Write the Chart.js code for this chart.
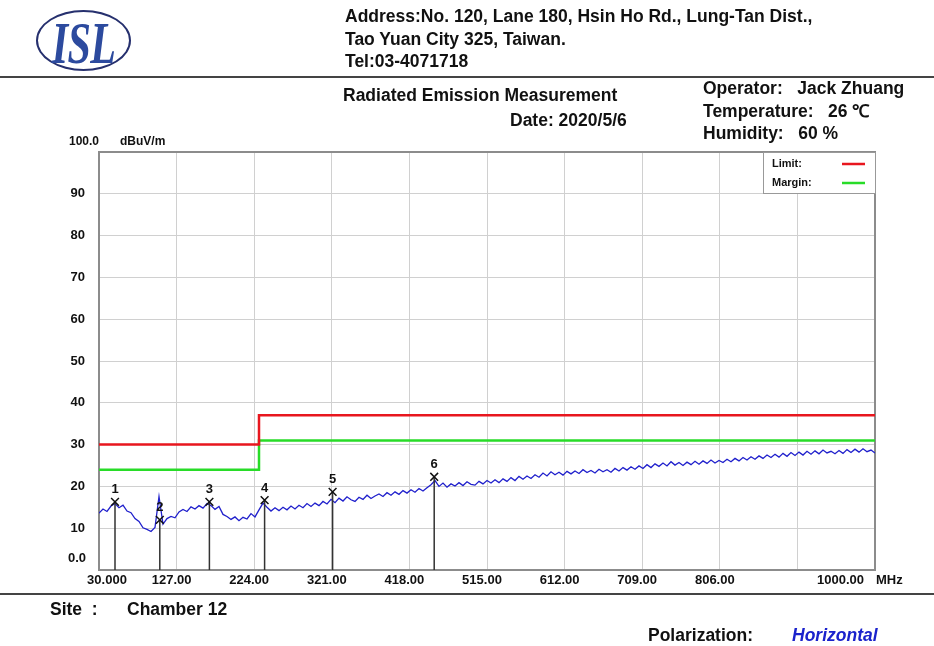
<!DOCTYPE html>
<html>
<head>
<meta charset="utf-8">
<script src="https://cdn.jsdelivr.net/npm/chart.js@4.4.1/dist/chart.umd.min.js"></script>
<style>
  body{margin:0;background:#fff;width:934px;height:646px;overflow:hidden;position:relative;
    font-family:"Liberation Sans",Arial,sans-serif;color:#111;}
  .t{position:absolute;font-weight:bold;white-space:pre;line-height:1;font-size:17.5px;}
  .logo{position:absolute;left:36px;top:10px;width:91px;height:57px;border:2.5px solid #26306e;border-radius:50%;}
  .logo span{position:absolute;left:0;right:0;top:1px;text-align:center;font-family:"Liberation Serif",serif;
    font-weight:bold;font-style:italic;font-size:60px;color:#2c4a9e;transform:scaleX(0.7);letter-spacing:-1px;line-height:1;}
  .rule{position:absolute;left:0;width:934px;background:#444;}
  #c{position:absolute;left:0;top:0;}
</style>
</head>
<body>
<canvas id="c" width="934" height="646"></canvas>

<div class="logo"><span>ISL</span></div>
<div class="t" style="left:345px;top:8px">Address:No. 120, Lane 180, Hsin Ho Rd., Lung-Tan Dist.,</div>
<div class="t" style="left:345px;top:31px">Tao Yuan City 325, Taiwan.</div>
<div class="t" style="left:345px;top:53px">Tel:03-4071718</div>
<div class="rule" style="top:76px;height:2px"></div>

<div class="t" style="left:343px;top:87px">Radiated Emission Measurement</div>
<div class="t" style="left:510px;top:112px">Date: 2020/5/6</div>
<div class="t" style="left:703px;top:80px">Operator:   Jack Zhuang</div>
<div class="t" style="left:703px;top:103px">Temperature:   26 ℃</div>
<div class="t" style="left:703px;top:125px">Humidity:   60 %</div>

<div class="rule" style="top:593px;height:2px"></div>
<div class="t" style="left:50px;top:601px">Site  :</div>
<div class="t" style="left:127px;top:601px">Chamber 12</div>
<div class="t" style="left:648px;top:627px">Polarization:</div>
<div class="t" style="left:792px;top:627px;font-style:italic;color:#1a22cc">Horizontal</div>

<script>
// frequency axis (MHz)
const xTicks = [30, 127, 224, 321, 418, 515, 612, 709, 806, 903, 1000];
const xTickLabels = ['30.000', '127.00', '224.00', '321.00', '418.00', '515.00', '612.00', '709.00', '806.00', '', '1000.00'];
const yTicks = [0, 10, 20, 30, 40, 50, 60, 70, 80, 90, 100];

// limit / margin lines (dBuV/m)
const limitFreq = [30, 230, 230, 1000];
const limitLevel = [30, 30, 37, 37];
const marginLevel = [24, 24, 31, 31];

// sweep: 30 MHz start, 5 MHz step
const sweepStart = 30, sweepStep = 5;
const traceLevel = [
  13.6,14.6,14.0,15.3,15.9,14.9,15.5,14.1,13.7,12.3,11.6,10.1,9.7,9.2,10.2,
  17.6,11.0,12.3,12.8,12.5,13.9,14.5,14.0,15.1,14.6,15.4,14.8,15.9,15.4,14.5,15.2,13.3,12.8,12.1,12.7,11.8,12.6,12.2,13.5,12.7,14.4,
  16.0,15.0,14.1,14.9,14.2,15.0,14.4,15.3,14.6,15.5,14.9,15.9,15.2,16.0,15.4,16.4,15.8,16.9,
  16.1,17.2,16.5,17.5,16.8,16.4,17.4,16.9,17.9,17.1,17.7,18.2,17.6,18.5,17.9,18.7,18.1,19.0,18.4,19.2,18.6,19.5,18.9,19.7,20.4,
  21.4,20.0,20.8,19.8,20.6,20.1,20.9,20.2,21.1,20.5,20.3,21.2,20.6,21.4,20.8,21.6,20.9,21.8,21.2,22.1,21.4,22.4,21.7,
  22.5,21.9,22.8,22.2,23.2,22.5,23.5,22.8,23.4,22.7,23.6,23.0,23.7,23.1,24.0,23.3,23.8,23.2,24.1,23.5,24.0,23.4,24.3,23.7,24.5,23.9,24.7,24.1,
  24.9,24.3,25.2,24.5,25.4,24.8,25.6,24.9,25.9,25.1,25.7,25.0,25.8,25.2,26.0,25.3,26.1,25.5,26.3,25.6,26.2,25.7,26.5,25.9,26.7,26.1,26.9,26.3,27.1,26.5,
  27.3,26.7,27.5,26.9,27.7,27.0,27.9,27.2,28.1,27.4,28.2,27.5,28.4,27.7,28.5,27.8,28.7,28.0,28.4,27.8,28.6,27.9,28.8,28.1,28.9,28.2,29.0,28.3,28.7,28.0
];

// peak markers
const markerNo = [1, 2, 3, 4, 5, 6];
const markerFreq = [50, 106, 168, 237, 322, 449];
const markerLevel = [16.3, 12.0, 16.3, 16.7, 18.7, 22.3];

const tracePts = traceLevel.map((v, i) => ({x: sweepStart + i * sweepStep, y: v}));
const stemPts = [];
markerFreq.forEach((f, i) => {
  stemPts.push({x: f, y: 0}, {x: f, y: markerLevel[i]}, {x: f, y: null});
});

const lblFont = {family: '"Liberation Sans", Arial, sans-serif', size: 13, weight: 'bold'};

// extra drawing: frame, odd axis labels, legend box, marker numbers
const decor = {
  id: 'decor',
  beforeDatasetsDraw(chart){
    const {ctx, chartArea: a} = chart;
    ctx.save();
    ctx.strokeStyle = '#8c8c8c';
    ctx.lineWidth = 2;
    ctx.strokeRect(a.left, a.top, a.right - a.left, a.bottom - a.top);
    ctx.restore();
  },
  afterDraw(chart){
    const {ctx, chartArea: a, scales} = chart;
    const xs = scales.x, ys = scales.y;
    ctx.save();
    ctx.fillStyle = '#111';
    ctx.font = 'bold 12px "Liberation Sans", Arial, sans-serif';
    ctx.textBaseline = 'middle';
    ctx.textAlign = 'left';
    ctx.fillText('100.0', 69, ys.getPixelForValue(100) - 10);
    ctx.fillText('dBuV/m', 120, ys.getPixelForValue(100) - 10);
    ctx.font = 'bold 13px "Liberation Sans", Arial, sans-serif';
    ctx.textAlign = 'right';
    ctx.fillText('0.0', 86, ys.getPixelForValue(0) - 12);
    ctx.textAlign = 'center';
    ctx.fillText(xTickLabels[0], xs.getPixelForValue(30) + 8, a.bottom + 10);
    ctx.textAlign = 'right';
    ctx.fillText(xTickLabels[10], xs.getPixelForValue(1000) - 11, a.bottom + 10);
    ctx.textAlign = 'left';
    ctx.fillText('MHz', a.right + 1, a.bottom + 10);

    // legend box
    const lx = a.right - 112, ly = a.top, lw = 112, lh = 41;
    ctx.fillStyle = '#fff';
    ctx.fillRect(lx, ly, lw, lh);
    ctx.strokeStyle = '#999';
    ctx.lineWidth = 1;
    ctx.strokeRect(lx + 0.5, ly + 0.5, lw, lh);
    ctx.fillStyle = '#111';
    ctx.font = 'bold 11px "Liberation Sans", Arial, sans-serif';
    ctx.fillText('Limit:', lx + 9, ly + 12);
    ctx.fillText('Margin:', lx + 9, ly + 31);
    ctx.lineWidth = 2.5;
    ctx.strokeStyle = '#e8161e';
    ctx.beginPath(); ctx.moveTo(lx + 79, ly + 12); ctx.lineTo(lx + 102, ly + 12); ctx.stroke();
    ctx.strokeStyle = '#28dc28';
    ctx.beginPath(); ctx.moveTo(lx + 79, ly + 31); ctx.lineTo(lx + 102, ly + 31); ctx.stroke();

    // marker numbers
    ctx.fillStyle = '#111';
    ctx.font = 'bold 13px "Liberation Sans", Arial, sans-serif';
    ctx.textAlign = 'center';
    markerNo.forEach((n, i) => {
      ctx.fillText(String(n), xs.getPixelForValue(markerFreq[i]), ys.getPixelForValue(markerLevel[i]) - 12);
    });
    ctx.restore();
  }
};

new Chart(document.getElementById('c'), {
  type: 'line',
  data: {
    datasets: [
      {data: limitFreq.map((f, i) => ({x: f, y: limitLevel[i]})), borderColor: '#e8161e', borderWidth: 2.5, pointRadius: 0, order: 2},
      {data: limitFreq.map((f, i) => ({x: f, y: marginLevel[i]})), borderColor: '#28dc28', borderWidth: 2.5, pointRadius: 0, order: 3},
      {data: tracePts, borderColor: '#2020cc', borderWidth: 1.3, pointRadius: 0, order: 4},
      {data: stemPts, borderColor: '#333', borderWidth: 1.5, pointRadius: 0, spanGaps: false, order: 1},
      {data: markerFreq.map((f, i) => ({x: f, y: markerLevel[i]})), showLine: false, pointStyle: 'crossRot',
        pointRadius: 5.5, borderColor: '#111', borderWidth: 1.5, order: 0}
    ]
  },
  options: {
    responsive: false,
    animation: false,
    devicePixelRatio: 1,
    layout: {padding: {left: 0, top: 152, right: 59, bottom: 56}},
    plugins: {legend: {display: false}, tooltip: {enabled: false}},
    scales: {
      x: {
        type: 'linear', min: 30, max: 1000,
        afterBuildTicks: s => { s.ticks = xTicks.map(v => ({value: v})); },
        afterFit: s => { s.height = 20; },
        grid: {color: '#d0d0d0', lineWidth: 1, drawTicks: false},
        border: {display: false},
        ticks: {
          font: lblFont, color: '#111', padding: 3, labelOffset: -5, maxRotation: 0, autoSkip: false,
          callback: v => { const i = xTicks.indexOf(v); return (i <= 0 || i === 10) ? '' : xTickLabels[i]; }
        }
      },
      y: {
        min: 0, max: 100,
        afterBuildTicks: s => { s.ticks = yTicks.map(v => ({value: v})); },
        afterFit: s => { s.width = 99; },
        grid: {color: '#d0d0d0', lineWidth: 1, drawTicks: false},
        border: {display: false},
        ticks: {
          font: lblFont, color: '#111', padding: 14,
          callback: v => (v === 0 || v === 100) ? '' : String(v)
        }
      }
    }
  },
  plugins: [decor]
});
</script>
</body>
</html>
